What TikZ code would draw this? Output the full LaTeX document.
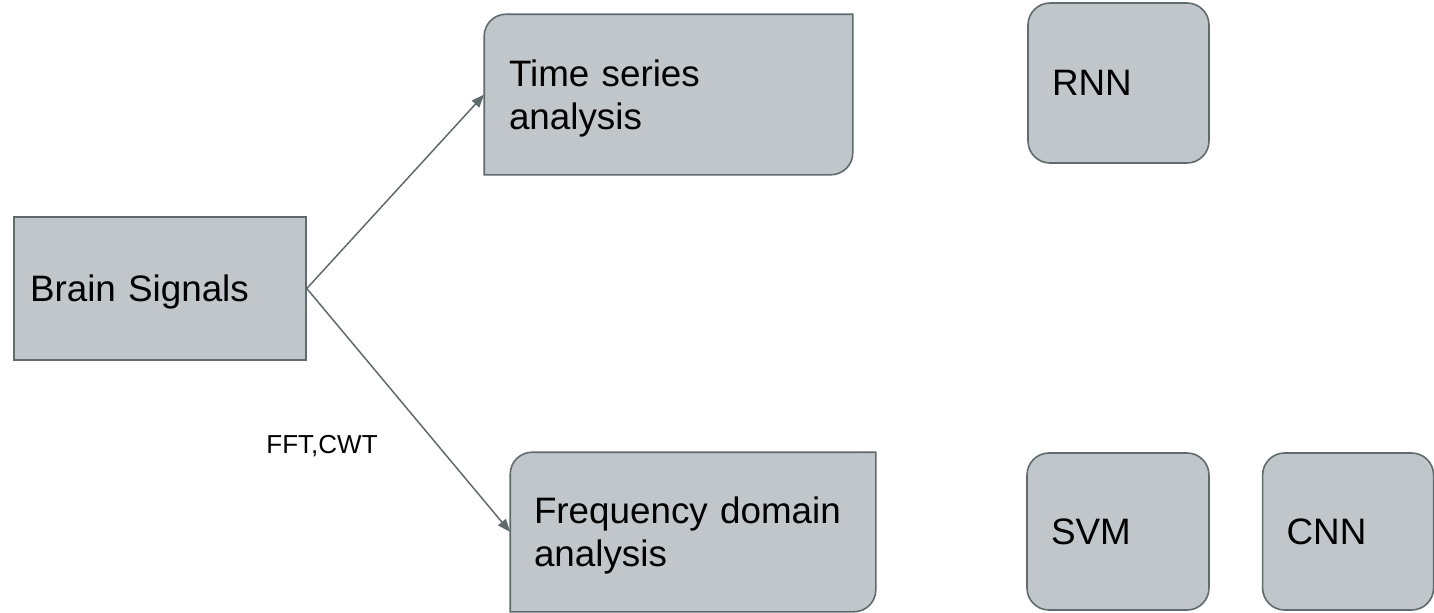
\documentclass[tikz,border=0pt]{standalone}
\usepackage{fontspec}
\setmainfont{Liberation Sans}
\usepackage{tikz}
\usetikzlibrary{arrows.meta, positioning, backgrounds}
\definecolor{boxfill}{RGB}{192,198,201}
\definecolor{edgegray}{RGB}{95,107,109}

\begin{document}
\begin{tikzpicture}[x=0.5pt, y=-0.5pt, node distance=26pt,
    block/.style={rectangle, fill=boxfill, draw=edgegray, line width=0.8pt, inner xsep=12pt, inner ysep=0pt, align=left, font=\fontsize{18.4}{21.5}\selectfont},
    roundblock/.style={block, rounded corners=11pt, text depth=0pt},
    diagblock/.style={block, draw=none, fill=none, text depth=21.5pt},
    flow/.style={draw=edgegray, line width=0.75pt, -{Triangle[length=6.5pt,width=5pt]}}]

    \useasboundingbox (0,0) rectangle (1434,612);

    % Source node
    \node (brain) [block, inner xsep=8pt, text width=130pt, minimum height=71.5pt, text depth=0pt] at (160,288.5) {Brain Signals};

    % Nodes for the two kinds of analysis
    \node (ts) [diagblock, text width=159.5pt, minimum height=79.5pt] at (668.5,94.5) {Time series\\analysis};
    \node (fd) [diagblock, inner xsep=11.5pt, text width=159pt, minimum height=79pt] at (693,532) {Frequency~domain\\analysis};

    % Nodes for the models
    \node (rnn) [roundblock, text width=66.5pt, minimum height=80pt] at (1118.5,83) {RNN};
    \node (svm) [roundblock, text width=67pt, minimum height=78.5pt] at (1118,531.5) {SVM};
    \node (cnn) [roundblock, text width=61.5pt, minimum height=78.5pt, right=of svm] {CNN};

    \node (fftlabel) [font=\fontsize{13}{15}\selectfont, inner sep=0pt, text depth=0pt] at (322,444) {FFT,CWT};

    % Boxes with two rounded corners
    \begin{scope}[on background layer]
        \foreach \n in {ts,fd}
            \draw[fill=boxfill, draw=edgegray, line width=0.8pt] (\n.south west) -- ([yshift=-11pt]\n.north west) arc[start angle=180, end angle=90, radius=11pt] -- (\n.north east) -- ([yshift=11pt]\n.south east) arc[start angle=0, end angle=-90, radius=11pt] -- cycle;
    \end{scope}

    % Draw arrows from the signals to each analysis
    \draw[flow] (brain.east) -- (ts.west);
    \draw[flow] (brain.east) -- (fd.west);

\end{tikzpicture}
\end{document}
